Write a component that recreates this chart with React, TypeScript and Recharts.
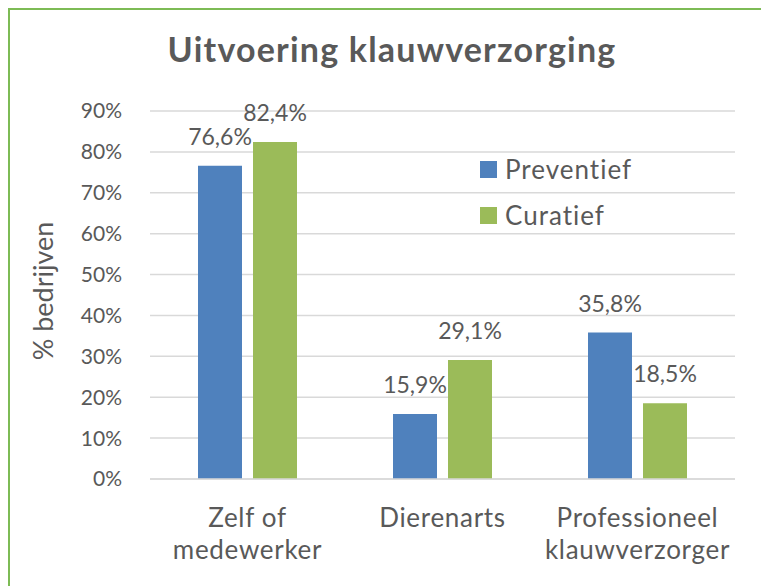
import React from "react";
import { BarChart, Bar, XAxis, YAxis, CartesianGrid, LabelList } from "recharts";

const categories = ["Zelf of\nmedewerker", "Dierenarts", "Professioneel\nklauwverzorger"];
const preventief = [76.6, 15.9, 35.8];
const curatief = [82.4, 29.1, 18.5];
const yTicks = [0, 10, 20, 30, 40, 50, 60, 70, 80, 90];
const seriesNames = ["Preventief", "Curatief"];
const title = "Uitvoering klauwverzorging";
const yLabel = "% bedrijven";

const BLUE = "#4F81BD";
const GREEN = "#9BBB59";
const seriesColors = [BLUE, GREEN];
const TEXT = "#595959";
const FONT = "Lato, 'Noto Sans', sans-serif";

const data = categories.map((c, i) => ({ name: c, p: preventief[i], c: curatief[i] }));

const fmt = (v: number) => v.toFixed(1).replace(".", ",") + "%";

const XTick = (props: any) => {
  const { x, y, payload } = props;
  const lines = String(payload.value).split("\n");
  return (
    <text x={x} y={y} textAnchor="middle" fill={TEXT} fontSize={26} letterSpacing={0.7} fontFamily={FONT}>
      {lines.map((l: string, i: number) => (
        <tspan key={i} x={x} dy={i === 0 ? 46 : 32}>{l}</tspan>
      ))}
    </text>
  );
};

export default function App() {
  return (
    <div
      style={{
        position: "relative",
        width: 770,
        height: 590,
        border: "2px solid #7DBB55",
        boxSizing: "border-box",
        background: "#fff",
      }}
    >
      <svg width={766} height={80} style={{ position: "absolute", left: 0, top: 0 }}>
        <text x={382} y={52} textAnchor="middle" fontSize={34} fontWeight="bold" letterSpacing={1.2} fill={TEXT} fontFamily={FONT}>
          {title}
        </text>
      </svg>
      <div style={{ position: "absolute", left: 470, top: 136, fontFamily: FONT, zIndex: 2 }}>
        {seriesNames.map((n, i) => (
          <div key={n} style={{ display: "flex", alignItems: "center", height: 46 }}>
            <div style={{ width: 17, height: 17, background: seriesColors[i], marginRight: 8 }} />
            <span style={{ fontSize: 26, color: TEXT, letterSpacing: 1 }}>{n}</span>
          </div>
        ))}
      </div>
      <BarChart
        width={766}
        height={586}
        data={data}
        margin={{ top: 101, right: 41, left: 0, bottom: 0 }}
        barSize={44}
        barGap={11}
      >
        <CartesianGrid vertical={false} stroke="#D9D9D9" strokeWidth={1.5} />
        <XAxis
          dataKey="name"
          height={117}
          axisLine={{ stroke: "#D9D9D9", strokeWidth: 1.5 }}
          tickLine={false}
          tickSize={0}
          tick={<XTick />}
          interval={0}
        />
        <YAxis
          width={140}
          domain={[0, 90]}
          ticks={yTicks}
          axisLine={false}
          tickLine={false}
          tickSize={26}
          tickFormatter={(v: number) => v + "%"}
          tick={{ fill: TEXT, fontSize: 21, fontFamily: FONT }}
          label={{
            value: yLabel,
            angle: -90,
            position: "insideLeft",
            dx: 28,
            dy: -4,
            style: { fill: TEXT, fontSize: 27, fontFamily: FONT, textAnchor: "middle" },
          }}
        />
        <Bar dataKey="p" name={seriesNames[0]} fill={BLUE} isAnimationActive={false}>
          <LabelList dataKey="p" position="top" offset={21} formatter={fmt} fill={TEXT} fontSize={23} fontFamily={FONT} />
        </Bar>
        <Bar dataKey="c" name={seriesNames[1]} fill={GREEN} isAnimationActive={false}>
          <LabelList dataKey="c" position="top" offset={21} formatter={fmt} fill={TEXT} fontSize={23} fontFamily={FONT} />
        </Bar>
      </BarChart>
    </div>
  );
}
